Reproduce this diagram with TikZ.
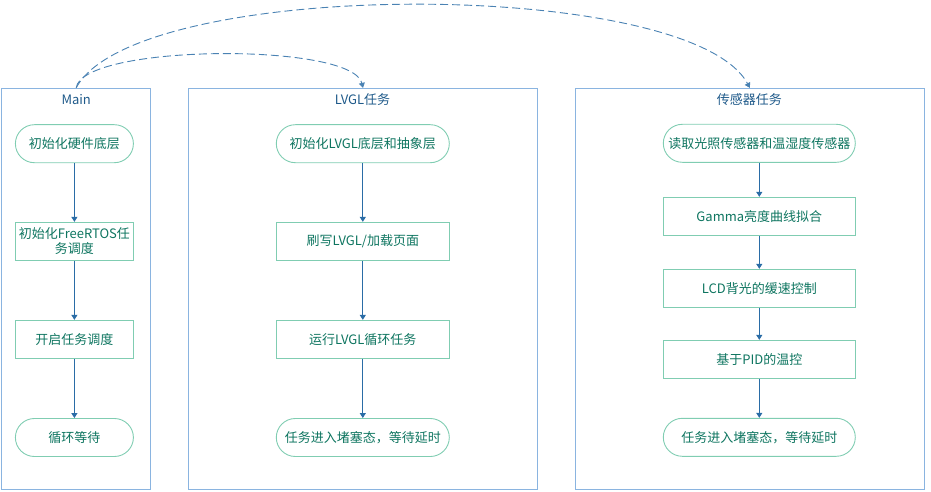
\documentclass[tikz,border=0pt]{standalone}
\usepackage{fontspec}
\setmainfont{Noto Sans CJK SC}
\usetikzlibrary{arrows.meta}

\definecolor{panelcol}{HTML}{8AB4E0}
\definecolor{nodecol}{HTML}{80CDB2}
\definecolor{textcol}{HTML}{0E7560}
\definecolor{linecol}{HTML}{2A6CA6}
\definecolor{titlecol}{HTML}{1F5A8A}

\tikzset{
	panel/.style={draw=panelcol,line width=0.9pt,inner sep=0pt},
	paneltitle/.style={text=titlecol,inner sep=0pt,font=\fontsize{13}{15}\selectfont},
	proc/.style={draw=nodecol,line width=0.9pt,text=textcol,minimum height=38pt,inner sep=0pt,
		align=center,font=\fontsize{13}{15}\selectfont},
	term/.style={proc,rounded corners=19pt},
	flow/.style={draw=linecol,line width=1.1pt,-{Triangle[width=6pt,length=5pt]}},
	jump/.style={draw=linecol!85,line width=0.9pt,dash pattern=on 8pt off 4pt,-{Triangle[width=6pt,length=5pt]}}
}

\begin{document}
\begin{tikzpicture}[x=1pt,y=-1pt]
		\useasboundingbox (0,0) rectangle (931,492);

		% panels
		\node[panel,minimum width=149pt,minimum height=401pt] (p1) at ( 76.2,288.8) {};
		\node[panel,minimum width=348.6pt,minimum height=401pt] (p2) at (363.0,288.8) {};
		\node[panel,minimum width=349pt,minimum height=401pt] (p3) at (749.8,288.8) {};
		\node[paneltitle] (t1) at ( 76.2,100) {Main};
		\node[paneltitle] (t2) at (362.5,100) {LVGL任务};
		\node[paneltitle] (t3) at (749.3,100) {传感器任务};

		% Main
		\node[term,minimum width=118pt] (m1) at ( 74.4,143.7) {初始化硬件底层};
		\node[proc,minimum width=118pt] (m2) at ( 74.4,241.3) {初始化FreeRTOS任\\务调度};
		\node[proc,minimum width=118pt] (m3) at ( 74.4,339.3) {开启任务调度};
		\node[term,minimum width=118pt] (m4) at ( 74.4,437.5) {循环等待};

		% LVGL
		\node[term,minimum width=173pt] (l1) at (362.8,143.7) {初始化LVGL底层和抽象层};
		\node[proc,minimum width=173pt] (l2) at (362.8,241.3) {刷写LVGL/加载页面};
		\node[proc,minimum width=173pt] (l3) at (362.8,339.3) {运行LVGL循环任务};
		\node[term,minimum width=173pt] (l4) at (362.8,437.5) {任务进入堵塞态，等待延时};

		% sensors
		\node[term,minimum width=192pt] (s1) at (759.3,143.3) {读取光照传感器和温湿度传感器};
		\node[proc,minimum width=192pt] (s2) at (759.3,216.3) {Gamma亮度曲线拟合};
		\node[proc,minimum width=192pt] (s3) at (759.3,288.3) {LCD背光的缓速控制};
		\node[proc,minimum width=192pt] (s4) at (759.3,359.3) {基于PID的温控};
		\node[term,minimum width=192pt] (s5) at (759.3,437.3) {任务进入堵塞态，等待延时};

		\draw[flow] (m1) to (m2); \draw[flow] (m2) to (m3); \draw[flow] (m3) to (m4);
		\draw[flow] (l1) to (l2); \draw[flow] (l2) to (l3); \draw[flow] (l3) to (l4);
		\draw[flow] (s1) to (s2); \draw[flow] (s2) to (s3);
		\draw[flow] (s3) to (s4); \draw[flow] (s4) to (s5);

		\draw[jump] (p1.north) .. controls (82,44) and (352,42) .. (p2.north);
		\draw[jump] (p1.north) .. controls (135,-23) and (690,-23) .. (p3.north);

	\end{tikzpicture}
\end{document}
